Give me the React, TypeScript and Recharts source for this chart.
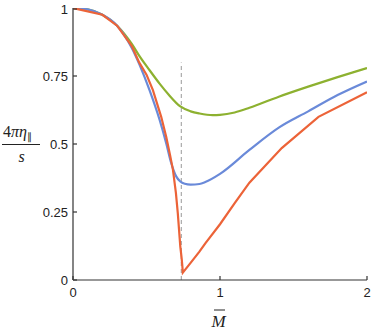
import { LineChart, Line, XAxis, YAxis, ReferenceLine, Label } from "recharts";

const X_TICKS = [0, 1, 2];
const Y_TICKS = [0, 0.25, 0.5, 0.75, 1];

const greenX = [0, 0.1, 0.2, 0.3, 0.4, 0.45, 0.52, 0.589, 0.65, 0.73, 0.8, 0.861, 0.95, 1.0, 1.1, 1.2, 1.4, 1.6, 1.8, 2.0];
const greenY = [1, 0.995, 0.975, 0.935, 0.868, 0.825, 0.772, 0.722, 0.682, 0.638, 0.62, 0.612, 0.606, 0.607, 0.616, 0.633, 0.674, 0.711, 0.746, 0.779];

const blueX = [0, 0.1, 0.2, 0.3, 0.4, 0.453, 0.52, 0.589, 0.634, 0.668, 0.703, 0.73, 0.76, 0.8, 0.86, 0.9, 1.0, 1.2, 1.4, 1.6, 1.8, 2.0];
const blueY = [1, 0.995, 0.975, 0.935, 0.853, 0.791, 0.699, 0.589, 0.503, 0.43, 0.38, 0.362, 0.354, 0.351, 0.353, 0.36, 0.39, 0.478, 0.56, 0.62, 0.68, 0.73];

const orangeX = [0, 0.2, 0.3, 0.4, 0.45, 0.5, 0.543, 0.6, 0.634, 0.66, 0.68, 0.7, 0.713, 0.73, 0.74, 0.744, 0.747, 0.8, 0.86, 0.9, 1.0, 1.1, 1.2, 1.42, 1.67, 2.0];
const orangeY = [1, 0.975, 0.935, 0.86, 0.8, 0.755, 0.699, 0.6, 0.527, 0.46, 0.405, 0.32, 0.245, 0.123, 0.075, 0.05, 0.027, 0.063, 0.104, 0.135, 0.205, 0.283, 0.358, 0.485, 0.6, 0.69];

// dashed marker
const markX = 0.737;
const markTop = 0.8;

const toPoints = (xs: number[], ys: number[]) => xs.map((x, i) => ({ x, y: ys[i] }));

const green = toPoints(greenX, greenY);
const blue = toPoints(blueX, blueY);
const orange = toPoints(orangeX, orangeY);

const FONT = "'Liberation Sans', Arial, sans-serif";
const SERIF = "'Liberation Serif', 'Times New Roman', serif";

function XTick({ x, y, payload }: any) {
  return (
    <g>
      <line x1={x} x2={x} y1={y} y2={y - 4} stroke="#333" strokeWidth={1.2} />
      <text x={x} y={y + 17} textAnchor="middle" fontSize={13} fontFamily={FONT} fill="#222">
        {payload.value}
      </text>
    </g>
  );
}

function YTick({ x, y, payload }: any) {
  return (
    <g>
      <line x1={x} x2={x + 4} y1={y} y2={y} stroke="#333" strokeWidth={1.2} />
      <text x={x - 5} y={y + 4.5} textAnchor="end" fontSize={13} fontFamily={FONT} fill="#222">
        {String(payload.value)}
      </text>
    </g>
  );
}

function YTitle() {
  return (
    <g fill="#222" fontFamily={SERIF}>
      <text x={3} y={137} fontSize={16}>
        <tspan>4</tspan>
        <tspan fontStyle="italic">πη</tspan>
        <tspan fontSize={10} dy={3}>∥</tspan>
      </text>
      <line x1={2} x2={40} y1={144.5} y2={144.5} stroke="#222" strokeWidth={1} />
      <text x={21.5} y={162} fontSize={16} fontStyle="italic" textAnchor="middle">
        s
      </text>
    </g>
  );
}

function XTitle() {
  return (
    <g fill="#222" fontFamily={SERIF}>
      <line x1={214} x2={225} y1={310} y2={310} stroke="#222" strokeWidth={1} />
      <text x={218.5} y={327} fontSize={17} fontStyle="italic" textAnchor="middle">
        M
      </text>
    </g>
  );
}

export default function App() {
  return (
    <div style={{ position: "absolute", left: 0, top: 0, width: 374, height: 332, background: "#fff" }}>
      <LineChart width={374} height={332} margin={{ top: 8, right: 7, bottom: 0, left: 0 }}>
        <XAxis
          type="number"
          dataKey="x"
          domain={[0, 2]}
          ticks={X_TICKS}
          height={52}
          tickSize={0}
          tickMargin={0}
          tickLine={false}
          tick={<XTick />}
          axisLine={{ stroke: "#333", strokeWidth: 1.2 }}
          allowDataOverflow
        >
          <Label content={() => <XTitle />} />
        </XAxis>
        <YAxis
          type="number"
          dataKey="y"
          domain={[0, 1]}
          ticks={Y_TICKS}
          width={73}
          tickSize={0}
          tickMargin={0}
          tickLine={false}
          tick={<YTick />}
          axisLine={{ stroke: "#666", strokeWidth: 1.6 }}
          allowDataOverflow
        >
          <Label content={() => <YTitle />} />
        </YAxis>
        <ReferenceLine
          segment={[
            { x: markX, y: 0 },
            { x: markX, y: markTop },
          ]}
          stroke="#aaa"
          strokeWidth={1.2}
          strokeDasharray="4 3"
        />
        <Line data={green} dataKey="y" type="monotone" stroke="#8db130" strokeWidth={2.2} dot={false} isAnimationActive={false} />
        <Line data={blue} dataKey="y" type="monotone" stroke="#6a8ad9" strokeWidth={2.2} dot={false} isAnimationActive={false} />
        <Line data={orange} dataKey="y" type="linear" stroke="#ec6338" strokeWidth={2.2} dot={false} isAnimationActive={false} />
      </LineChart>
    </div>
  );
}
